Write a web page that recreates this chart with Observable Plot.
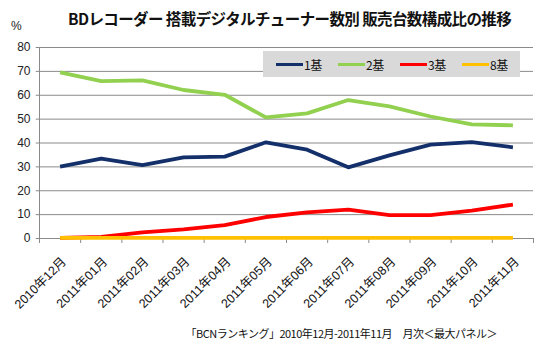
<!DOCTYPE html>
<html><head><meta charset="utf-8">
<script src="https://cdn.jsdelivr.net/npm/d3@7"></script>
<script src="https://cdn.jsdelivr.net/npm/@observablehq/plot@0.6"></script>
<style>
body{margin:0;background:#fff;font-family:"Noto Sans CJK JP",Arial,sans-serif;}
#wrap{position:relative;width:546px;height:352px;overflow:hidden;}
#title{position:absolute;left:68px;top:7px;font-size:15.5px;font-weight:bold;color:#111;white-space:nowrap;letter-spacing:-0.6px;}
#pct{position:absolute;left:11px;top:19px;font-size:12px;color:#222;font-family:Arial,"Liberation Sans",sans-serif;}
#cap{position:absolute;right:49px;top:325px;font-size:11px;color:#111;white-space:nowrap;letter-spacing:-0.5px;}
#legend{position:absolute;left:263px;top:51px;width:257px;height:26px;background:#d9d9d9;display:flex;align-items:center;font-size:12px;color:#111;white-space:nowrap;}
#legend span{display:inline-flex;align-items:center;white-space:nowrap;flex:none;width:62px;letter-spacing:-0.5px;}
#legend i{display:inline-block;width:27px;height:3px;margin-right:1px;flex:none;}
#chart{position:absolute;left:0;top:0;}
</style></head>
<body><div id="wrap">
<div id="chart"></div>
<div id="title">BDレコーダー 搭載デジタルチューナー数別 販売台数構成比の推移</div>
<div id="pct">%</div>
<div id="legend"></div>
<div id="cap">「BCNランキング」2010年12月-2011年11月　月次＜最大パネル＞</div>
</div>
<script>
const months = ["2010年12月","2011年01月","2011年02月","2011年03月","2011年04月","2011年05月","2011年06月","2011年07月","2011年08月","2011年09月","2011年10月","2011年11月"];
const seriesNames = ["1基","2基","3基","8基"];
const s1 = [30.1,33.5,30.7,34.0,34.3,40.3,37.2,29.8,34.8,39.3,40.4,38.2];
const s2 = [69.6,65.9,66.2,62.2,60.2,50.7,52.4,58.0,55.3,51.1,47.8,47.4];
const s3 = [0.3,0.7,2.6,3.8,5.6,9.0,10.9,12.1,9.8,9.8,11.7,14.2];
const s8 = [0.3,0.3,0.3,0.3,0.3,0.3,0.3,0.3,0.3,0.3,0.3,0.3];
const yTicks = [0,10,20,30,40,50,60,70,80];
const colors = ["#13306a","#92d050","#ff0000","#ffc000"];

const allSeries = [s1,s2,s3,s8];
const data = [];
allSeries.forEach((arr,si)=>arr.forEach((v,i)=>data.push({i, month:months[i], value:v, series:seriesNames[si]})));
const monthData = months.map((m,i)=>({i,m}));
const bounds = d3.range(months.length+1).map(k=>k-0.5);

const plot = Plot.plot({
  width:546, height:352,
  marginLeft:39, marginRight:13, marginTop:47, marginBottom:114,
  style:{fontFamily:'Arial,"Liberation Sans","Noto Sans CJK JP",sans-serif', fontSize:"12px", color:"#222", background:"transparent"},
  x:{type:"linear", domain:[-0.5, months.length-0.5]},
  y:{domain:[0,80]},
  color:{domain:seriesNames, range:colors},
  marks:[
    Plot.ruleY(yTicks,{x1:-0.58, x2:months.length-0.5, stroke:"#8a8a8a", strokeWidth:1}),
    Plot.ruleX([-0.5],{y1:0,y2:80, stroke:"#8a8a8a"}),
    Plot.axisY({ticks:yTicks, tickSize:0, tickPadding:9, label:null, fill:"#222", fontSize:12}),
    Plot.axisX({ticks:bounds, tickFormat:()=>"", tickSize:5, stroke:"#8a8a8a", label:null}),
    Plot.line(data,{x:"i", y:"value", z:"series", stroke:"series", strokeWidth:3.8, strokeLinejoin:"round", strokeLinecap:"butt"}),
    Plot.text(monthData,{x:"i", y:0, text:"m", rotate:-45, textAnchor:"end", dx:4, dy:21, fontSize:12.5, fill:"#111", fontFamily:'Arial,"Noto Sans CJK JP",sans-serif'})
  ]
});
document.getElementById("chart").appendChild(plot);

const lg = document.getElementById("legend");
seriesNames.forEach((n,k)=>{
  const s=document.createElement("span");
  s.innerHTML=`<i style="background:${colors[k]}"></i>${n}`;
  if(k===0) s.style.marginLeft = "13px";
  lg.appendChild(s);
});
</script>
</body></html>
